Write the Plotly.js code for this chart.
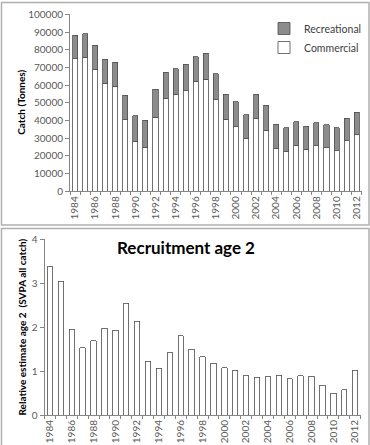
<!DOCTYPE html>
<html>
<head>
<meta charset="utf-8">
<script src="https://cdn.plot.ly/plotly-3.0.1.min.js"></script>
<style>html,body{margin:0;padding:0;background:#fff;}#chart{width:370px;height:445px;}</style>
</head>
<body>
<div id="chart"></div>
<script>
const years = ['1984','1985','1986','1987','1988','1989','1990','1991','1992','1993','1994','1995','1996','1997','1998','1999','2000','2001','2002','2003','2004','2005','2006','2007','2008','2009','2010','2011','2012'];
const tickLabels = ['1984','','1986','','1988','','1990','','1992','','1994','','1996','','1998','','2000','','2002','','2004','','2006','','2008','','2010','','2012'];
const commercial = [75000,75700,68900,61000,59300,40500,28200,24900,41800,52700,54800,56900,62100,63300,51600,40700,36500,29900,41100,34500,24300,22400,25800,23900,25800,24700,23000,28600,32000];
const totalCatch = [88300,88900,82500,74600,72900,54200,42700,40100,57600,67400,69300,71900,76100,78000,66300,54800,50500,43300,54800,48600,37900,35800,39200,36700,38800,37700,35800,41200,44600];
const recreational = totalCatch.map((t, i) => t - commercial[i]);
const recruitment = [3.38,3.04,1.95,1.53,1.69,1.97,1.93,2.54,2.13,1.22,1.06,1.42,1.81,1.50,1.33,1.18,1.08,1.02,0.89,0.86,0.87,0.90,0.82,0.89,0.88,0.68,0.49,0.57,1.02];

const W = 370, H = 445;
const px = x => x / W;
const py = y => 1 - y / H;
const FONT = 'Lato, "Open Sans", sans-serif';
const tickFont = {family: FONT, size: 10, color: '#595959'};
const titleFont = {family: FONT, size: 10, color: '#000000'};

const data = [
  {type: 'bar', x: years, y: commercial, name: 'Commercial', xaxis: 'x', yaxis: 'y',
   marker: {color: '#ffffff', line: {color: '#4d4d4d', width: 0.8}}},
  {type: 'bar', x: years, y: recreational, name: 'Recreational', xaxis: 'x', yaxis: 'y',
   marker: {color: '#8c8c8c', line: {color: '#4d4d4d', width: 0.8}}},
  {type: 'bar', x: years, y: recruitment, name: 'Recruitment', xaxis: 'x2', yaxis: 'y2', showlegend: false,
   marker: {color: '#ffffff', line: {color: '#4d4d4d', width: 0.8}}}
];

const xCommon = {
  type: 'category', tickmode: 'array', tickvals: years, ticktext: tickLabels,
  tickangle: -90, tickfont: tickFont, ticks: 'outside', ticklen: 3, tickcolor: '#868686',
  tickson: 'boundaries', showline: true, linecolor: '#868686', linewidth: 1,
  showgrid: false, zeroline: false, fixedrange: true, automargin: false
};

const layout = {
  width: W, height: H,
  margin: {l: 0, r: 0, t: 0, b: 0, pad: 0, autoexpand: false},
  paper_bgcolor: '#ffffff', plot_bgcolor: '#ffffff',
  barmode: 'stack',
  showlegend: true,
  legend: {x: px(367), y: py(14), xanchor: 'right', yanchor: 'top', traceorder: 'reversed',
           font: {family: FONT, size: 10.5, color: '#404040'}, bgcolor: 'rgba(0,0,0,0)', itemwidth: 30},
  xaxis: Object.assign({}, xCommon, {domain: [px(70), px(361.7)], anchor: 'y', range: [-0.5, 28.5]}),
  yaxis: {domain: [py(191.3), py(14.3)], anchor: 'x', range: [0, 100000], tickvals: [0,10000,20000,30000,40000,50000,60000,70000,80000,90000,100000],
          tickformat: 'd', tickfont: tickFont, ticks: 'outside', ticklen: 4, tickcolor: '#868686', automargin: false,
          showline: true, linecolor: '#868686', showgrid: false, zeroline: false, fixedrange: true},
  xaxis2: Object.assign({}, xCommon, {domain: [px(44.5), px(360.6)], anchor: 'y2', range: [-0.5, 28.5]}),
  yaxis2: {domain: [py(415), py(239.3)], anchor: 'x2', range: [0, 4], tickvals: [0,1,2,3,4],
          tickfont: tickFont, ticks: 'outside', ticklen: 4, tickcolor: '#868686', automargin: false,
          showline: true, linecolor: '#868686', showgrid: false, zeroline: false, fixedrange: true},
  bargap: 0.5,
  annotations: [
    {text: '<b>Recruitment age 2</b>', xref: 'paper', yref: 'paper', x: px(186), y: py(248),
     xanchor: 'center', yanchor: 'middle', showarrow: false, font: {family: FONT, size: 17, color: '#000000'}},
    {text: '<b>Catch (Tonnes)</b>', xref: 'paper', yref: 'paper', x: px(21), y: py(102.8), textangle: -90,
     xanchor: 'center', yanchor: 'middle', showarrow: false, font: titleFont},
    {text: '<b>Relative estimate age 2  (SVPA all catch)</b>', xref: 'paper', yref: 'paper', x: px(21.5), y: py(327), textangle: -90,
     xanchor: 'center', yanchor: 'middle', showarrow: false, font: titleFont}
  ],
  shapes: [
    {type: 'rect', xref: 'paper', yref: 'paper', x0: px(1.5), x1: px(369), y0: py(225), y1: py(2.5), line: {color: '#b0b0b0', width: 1.5}},
    {type: 'rect', xref: 'paper', yref: 'paper', x0: px(1.5), x1: px(369), y0: py(446), y1: py(228.5), line: {color: '#b0b0b0', width: 1.5}}
  ]
};

Plotly.newPlot('chart', data, layout, {displayModeBar: false, staticPlot: true});
</script>
</body>
</html>
